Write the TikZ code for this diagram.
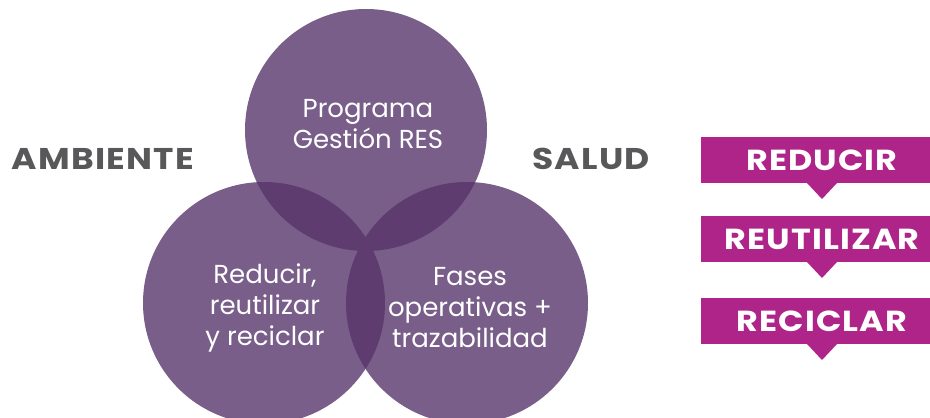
\documentclass[tikz,border=0pt]{standalone}
\usepackage{fontspec}
\setmainfont{Poppins}
\newfontfamily\widebold[FakeStretch=1.15, LetterSpace=4]{Poppins}
\usepackage{tikz}
\usetikzlibrary{positioning, calc}
\definecolor{vennpurple}{HTML}{785E89}
\definecolor{venndark}{HTML}{5E3C6F}
\definecolor{resmagenta}{HTML}{AE2489}
\definecolor{resgray}{HTML}{58585A}

\tikzset{
  venntext/.style={text=white, align=center, font=\fontsize{26}{31}\selectfont},
  sidelabel/.style={text=resgray, font=\widebold\fontsize{30}{32}\selectfont\bfseries},
  bannertext/.style={text=white, font=\widebold\fontsize{29}{31}\selectfont\bfseries},
}

\begin{document}
\begin{tikzpicture}[x=1pt, y=-1pt]
  \useasboundingbox (0,0) rectangle (930,418);
  \clip (0,0) rectangle (930,418);

  % Circle centres
  \coordinate (ctop)   at (366,130);
  \coordinate (cleft)  at (264,303);
  \coordinate (cright) at (467,303);
  \def\rad{121}

  % Base circles
  \foreach \c in {ctop, cleft, cright} {
    \fill[vennpurple] (\c) circle (\rad);
  }

  % Overlaps in a darker tone
  \begin{scope}
    \clip (ctop) circle (\rad);
    \fill[venndark] (cleft) circle (\rad);
    \fill[venndark] (cright) circle (\rad);
  \end{scope}
  \begin{scope}
    \clip (cleft) circle (\rad);
    \fill[venndark] (cright) circle (\rad);
  \end{scope}

  % Circle texts
  \node[venntext] (programa) at (368,124) {Programa\\Gestión RES};
  \node[venntext] (reducir3) at (265,308) {Reducir,\\reutilizar\\y reciclar};
  \node[venntext] (fases)    at (470,308) {Fases\\operativas +\\trazabilidad};

  % Side labels
  \node[sidelabel] (ambiente) at (103,159) {AMBIENTE};
  \node[sidelabel] (salud)    at (591,159) {SALUD};

  % Banners
  \foreach \y/\t/\n in {137/REDUCIR/reducir, 216/REUTILIZAR/reutilizar, 298/RECICLAR/reciclar} {
    \fill[resmagenta] (701,\y) rectangle (935,\y+46);
    \fill[resmagenta] (807,\y+46) -- (822,\y+62) -- (837,\y+46) -- cycle;
    \node[bannertext] (\n) at (822,\y+23) {\t};
  }
\end{tikzpicture}
\end{document}
